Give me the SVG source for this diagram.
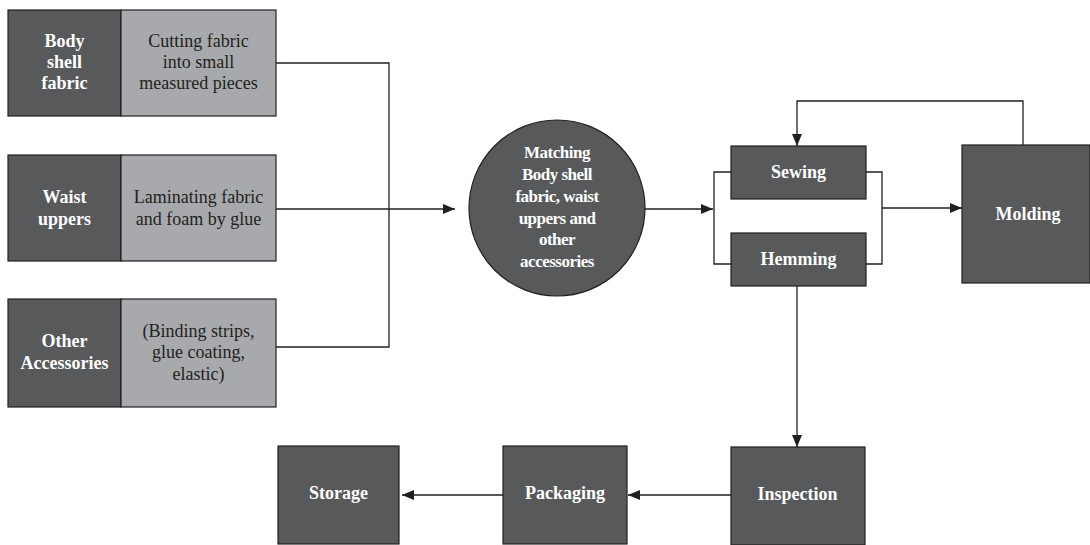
<svg xmlns="http://www.w3.org/2000/svg" width="1090" height="545" viewBox="0 0 1090 545">
<style>
.dk{fill:#58595b;stroke:#231f20;stroke-width:1.2}
.lt{fill:#a7a9ac;stroke:#231f20;stroke-width:1.2}
text{font-family:'Liberation Serif','Times New Roman','DejaVu Serif',serif}
.wt{font-weight:bold;font-size:18px;fill:#ffffff;text-anchor:middle}
.bt{font-size:18px;fill:#231f20;text-anchor:middle}
.ct{font-weight:bold;font-size:17px;fill:#ffffff;text-anchor:middle;letter-spacing:-0.5px}
.ln{fill:none;stroke:#231f20;stroke-width:1.3}
</style>
<defs>
<marker id="ah" viewBox="0 0 12 10" refX="12" refY="5" markerWidth="12" markerHeight="10" markerUnits="userSpaceOnUse" orient="auto">
<path d="M0,0 L12,5 L0,10 Z" fill="#231f20"/>
</marker>
</defs>
<g id="connectors">
<path class="ln" d="M276,63 H389 V347 H276"/>
<path class="ln" d="M276,209 H389"/>
<path class="ln" d="M389,209 H455" marker-end="url(#ah)"/>
<path class="ln" d="M645,209 H713" marker-end="url(#ah)"/>
<path class="ln" d="M731,172 H714 V264 H731"/>
<path class="ln" d="M866,172 H882 V264 H866"/>
<path class="ln" d="M882,208 H962" marker-end="url(#ah)"/>
<path class="ln" d="M1023,145 V101 H797 V146" marker-end="url(#ah)"/>
<path class="ln" d="M797,286 V447" marker-end="url(#ah)"/>
<path class="ln" d="M731,495 H628" marker-end="url(#ah)"/>
<path class="ln" d="M503,495 H402" marker-end="url(#ah)"/>
</g>
<g id="body-shell">
<rect class="dk" x="8" y="10" width="113" height="106"/>
<text class="wt" x="64.5" y="47">Body</text>
<text class="wt" x="64.5" y="68">shell</text>
<text class="wt" x="64.5" y="89">fabric</text>
</g>
<g id="cutting">
<rect class="lt" x="121" y="10" width="155" height="106"/>
<text class="bt" x="198.5" y="47">Cutting fabric</text>
<text class="bt" x="198.5" y="68">into small</text>
<text class="bt" x="198.5" y="89">measured pieces</text>
</g>
<g id="waist">
<rect class="dk" x="8" y="155" width="113" height="106"/>
<text class="wt" x="64.5" y="203">Waist</text>
<text class="wt" x="64.5" y="225">uppers</text>
</g>
<g id="laminating">
<rect class="lt" x="121" y="155" width="155" height="106"/>
<text class="bt" x="198.5" y="203">Laminating fabric</text>
<text class="bt" x="198.5" y="225">and foam by glue</text>
</g>
<g id="other">
<rect class="dk" x="8" y="299" width="113" height="108"/>
<text class="wt" x="64.5" y="347">Other</text>
<text class="wt" x="64.5" y="369">Accessories</text>
</g>
<g id="binding">
<rect class="lt" x="121" y="299" width="155" height="108"/>
<text class="bt" x="198.5" y="337">(Binding strips,</text>
<text class="bt" x="198.5" y="358">glue coating,</text>
<text class="bt" x="198.5" y="380">elastic)</text>
</g>
<g id="matching">
<circle class="dk" cx="557" cy="208" r="88"/>
<text class="ct" x="557" y="158">Matching</text>
<text class="ct" x="557" y="180">Body shell</text>
<text class="ct" x="557" y="202">fabric, waist</text>
<text class="ct" x="557" y="224">uppers and</text>
<text class="ct" x="557" y="245">other</text>
<text class="ct" x="557" y="267">accessories</text>
</g>
<g id="sewing">
<rect class="dk" x="731" y="146" width="135" height="53"/>
<text class="wt" x="798.5" y="178">Sewing</text>
</g>
<g id="hemming">
<rect class="dk" x="731" y="233" width="135" height="53"/>
<text class="wt" x="798.5" y="265">Hemming</text>
</g>
<g id="molding">
<rect class="dk" x="962" y="145" width="128" height="138"/>
<text class="wt" x="1028" y="220">Molding</text>
</g>
<g id="inspection">
<rect class="dk" x="731" y="447" width="134" height="98"/>
<text class="wt" x="797.5" y="500">Inspection</text>
</g>
<g id="packaging">
<rect class="dk" x="503" y="446" width="124" height="98"/>
<text class="wt" x="565" y="499">Packaging</text>
</g>
<g id="storage">
<rect class="dk" x="278" y="446" width="121" height="98"/>
<text class="wt" x="338.5" y="499">Storage</text>
</g>
</svg>
